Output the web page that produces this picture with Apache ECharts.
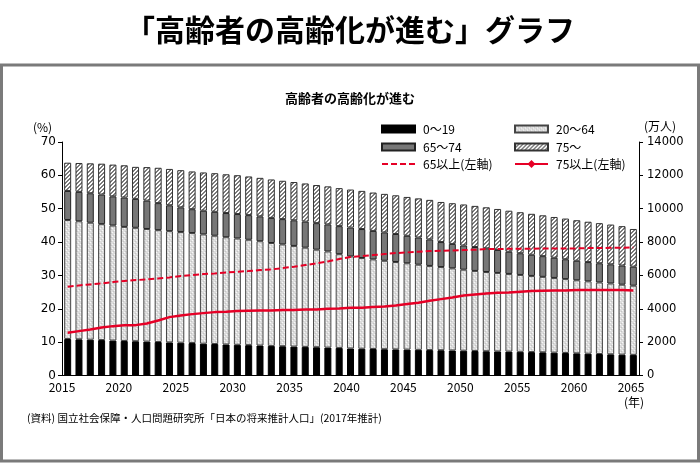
<!DOCTYPE html>
<html><head><meta charset="utf-8">
<script src="https://cdn.jsdelivr.net/npm/echarts@6/dist/echarts.min.js"></script>
<style>html,body{margin:0;padding:0;background:#fff}#c{width:700px;height:464px}</style>
</head><body><div id="c"></div>
<script>
const years = ['2015','2016','2017','2018','2019','2020','2021','2022','2023','2024','2025','2026','2027','2028','2029','2030','2031','2032','2033','2034','2035','2036','2037','2038','2039','2040','2041','2042','2043','2044','2045','2046','2047','2048','2049','2050','2051','2052','2053','2054','2055','2056','2057','2058','2059','2060','2061','2062','2063','2064','2065'];
const age0_19 = [2190,2170,2150,2125,2095,2070,2055,2035,2010,1985,1965,1945,1910,1890,1860,1840,1820,1800,1775,1755,1735,1715,1695,1675,1655,1620,1605,1590,1575,1565,1555,1540,1525,1515,1500,1485,1470,1455,1445,1435,1420,1405,1390,1370,1350,1330,1310,1290,1270,1250,1235];
const age20_64 = [7134,7076,7012,6950,6895,6840,6800,6750,6705,6670,6635,6595,6550,6490,6430,6375,6320,6250,6170,6105,6035,5950,5850,5760,5620,5520,5440,5370,5305,5240,5172,5105,5045,4985,4925,4860,4800,4750,4705,4655,4610,4565,4525,4480,4430,4380,4335,4290,4245,4195,4150];
const age65_74 = [1740,1765,1765,1775,1750,1760,1735,1700,1620,1550,1480,1430,1420,1435,1450,1465,1475,1490,1505,1515,1535,1560,1590,1625,1680,1730,1735,1710,1700,1680,1650,1630,1590,1500,1465,1450,1435,1420,1380,1330,1300,1270,1240,1210,1190,1170,1155,1150,1150,1150,1140];
const age75 = [1695,1730,1795,1850,1905,1935,1920,2010,2120,2180,2230,2265,2295,2315,2325,2330,2320,2310,2305,2300,2295,2290,2285,2280,2280,2280,2290,2300,2310,2320,2330,2345,2370,2405,2440,2460,2465,2460,2455,2460,2460,2455,2450,2445,2440,2430,2420,2405,2385,2360,2260];
const pct65 = [26.6,27.0,27.3,27.6,28.0,28.3,28.6,28.8,29.1,29.4,29.8,30.1,30.4,30.6,30.9,31.1,31.3,31.6,31.8,32.2,32.6,33.1,33.6,34.2,34.9,35.5,35.8,36.1,36.4,36.7,36.9,37.1,37.3,37.4,37.5,37.6,37.7,37.9,37.9,38.0,38.0,38.0,38.1,38.1,38.1,38.1,38.2,38.2,38.3,38.3,38.4];
const pct75 = [12.8,13.3,13.8,14.4,14.8,15.1,15.1,15.6,16.5,17.5,18.0,18.4,18.7,19.0,19.1,19.3,19.4,19.5,19.5,19.6,19.6,19.8,19.8,20.0,20.1,20.3,20.3,20.5,20.7,21.0,21.4,21.8,22.4,22.9,23.4,24.0,24.3,24.6,24.8,24.9,25.1,25.3,25.4,25.5,25.5,25.6,25.6,25.6,25.6,25.6,25.5];
const names = ['0〜19','20〜64','65〜74','75〜','65以上(左軸)','75以上(左軸)'];
const xTicks = [2015, 2065, 5];

function makePattern(kind){
  const c = document.createElement('canvas');
  c.width = 4; c.height = 4;
  const g = c.getContext('2d');
  if (kind === 'dots') {
    g.fillStyle = '#dcdcdc'; g.fillRect(0,0,4,4);
    g.fillStyle = '#f8f8f8';
    g.fillRect(0,0,1,1); g.fillRect(2,2,1,1);
    g.fillStyle = '#c4c4c4';
    g.fillRect(1,3,1,1); g.fillRect(3,1,1,1);
  } else {
    g.fillStyle = '#ffffff'; g.fillRect(0,0,4,4);
    g.fillStyle = '#7a7a7a';
    for (let y = 0; y < 4; y++) { g.fillRect((3 - y + 4) % 4, y, 1, 1); g.fillRect((4 - y) % 4, y, 1, 1); }
  }
  return {image: c, repeat: 'repeat'};
}
const RED = '#e60026';
const font = '"Noto Sans CJK JP", sans-serif';
const chart = echarts.init(document.getElementById('c'), null, {renderer: 'canvas'});
const barBase = {type: 'bar', stack: 'pop', xAxisIndex: 0, yAxisIndex: 1, barWidth: 7, animation: false};
const legTxt = {fontSize: 12, color: '#000', fontFamily: font, padding: [0, 0, 0, 3]};
function leg(name, left, top, h, extra) {
  return {left: left, top: top, itemWidth: 33, itemHeight: h, itemGap: 0, padding: 0,
    data: [Object.assign({name: name}, extra || {})], textStyle: legTxt};
}
chart.setOption({
  animation: false,
  textStyle: {fontFamily: font},
  grid: [
    {left: 62, right: 61, top: 142, bottom: 88.5},
    {left: 62, right: 69, top: 142, bottom: 88.5}
  ],
  legend: [
    leg(names[0], 381, 123, 7, {icon: 'rect'}),
    leg(names[1], 514, 123, 7, {icon: 'rect'}),
    leg(names[2], 381, 141, 7, {icon: 'rect'}),
    leg(names[3], 514, 141, 7, {icon: 'rect'}),
    leg(names[4], 381, 158, 10, {itemStyle: {color: 'rgba(0,0,0,0)', borderWidth: 0}}),
    leg(names[5], 514, 158, 10)
  ],
  xAxis: [
    {type: 'category', data: years, gridIndex: 0, boundaryGap: true,
     axisLine: {lineStyle: {color: '#000', width: 1}}, axisTick: {show: false}, axisLabel: {show: false}},
    {type: 'value', gridIndex: 1, min: xTicks[0], max: xTicks[1], interval: xTicks[2],
     axisLine: {show: false}, axisTick: {show: false}, splitLine: {show: false},
     axisLabel: {formatter: v => String(v), color: '#000', fontSize: 12, margin: 6, fontFamily: font}}
  ],
  yAxis: [
    {type: 'value', gridIndex: 0, min: 0, max: 70, interval: 10, position: 'left',
     axisLine: {show: true, lineStyle: {color: '#000'}}, axisTick: {show: true, length: 4, lineStyle: {color: '#000'}},
     splitLine: {show: false}, axisLabel: {color: '#000', fontSize: 12, margin: 6, fontFamily: 'DejaVu Sans'}},
    {type: 'value', gridIndex: 0, min: 0, max: 14000, interval: 2000, position: 'right',
     axisLine: {show: true, lineStyle: {color: '#000'}}, axisTick: {show: true, length: 4, lineStyle: {color: '#000'}},
     splitLine: {show: false}, axisLabel: {formatter: v => String(v), color: '#000', fontSize: 11.5, margin: 8, fontFamily: 'DejaVu Sans'}},
    {type: 'value', gridIndex: 1, show: false}
  ],
  series: [
    Object.assign({name: names[0], data: age0_19, itemStyle: {color: '#000', borderColor: '#000', borderWidth: 1}}, barBase),
    Object.assign({name: names[1], data: age20_64, itemStyle: {color: makePattern('dots'), borderColor: '#444', borderWidth: 1}}, barBase),
    Object.assign({name: names[2], data: age65_74, itemStyle: {color: '#777777', borderColor: '#222', borderWidth: 1}}, barBase),
    Object.assign({name: names[3], data: age75, itemStyle: {color: makePattern('hatch'), borderColor: '#333', borderWidth: 1}}, barBase),
    {name: names[4], type: 'line', xAxisIndex: 0, yAxisIndex: 0, data: pct65, showSymbol: false, symbol: 'none',
     lineStyle: {color: RED, width: 2, type: [6, 3]}, itemStyle: {color: RED}, z: 5},
    {name: names[5], type: 'line', xAxisIndex: 0, yAxisIndex: 0, data: pct75, symbol: 'diamond', symbolSize: [7, 8],
     lineStyle: {color: RED, width: 2.5}, itemStyle: {color: RED}, z: 6}
  ],
  graphic: [
    {type: 'text', left: 'center', top: 15, style: {text: '「高齢者の高齢化が進む」グラフ', font: 'bold 30px ' + font, fill: '#000'}},
    {type: 'rect', shape: {x: 1.5, y: 65, width: 697, height: 396}, style: {fill: 'none', stroke: '#7a7a7a', lineWidth: 3}},
    {type: 'text', left: 'center', top: 92, style: {text: '高齢者の高齢化が進む', font: 'bold 13px ' + font, fill: '#000'}},
    {type: 'text', x: 33, y: 121, style: {text: '(%)', font: '12px ' + font, fill: '#000'}},
    {type: 'text', x: 644, y: 120, style: {text: '(万人)', font: '12px ' + font, fill: '#000'}},
    {type: 'text', x: 624, y: 396, style: {text: '(年)', font: '12px ' + font, fill: '#000'}},
    {type: 'text', x: 27, y: 413, style: {text: '(資料) 国立社会保障・人口問題研究所「日本の将来推計人口」(2017年推計)', font: '10.5px ' + font, fill: '#000'}}
  ]
});
</script></body></html>
